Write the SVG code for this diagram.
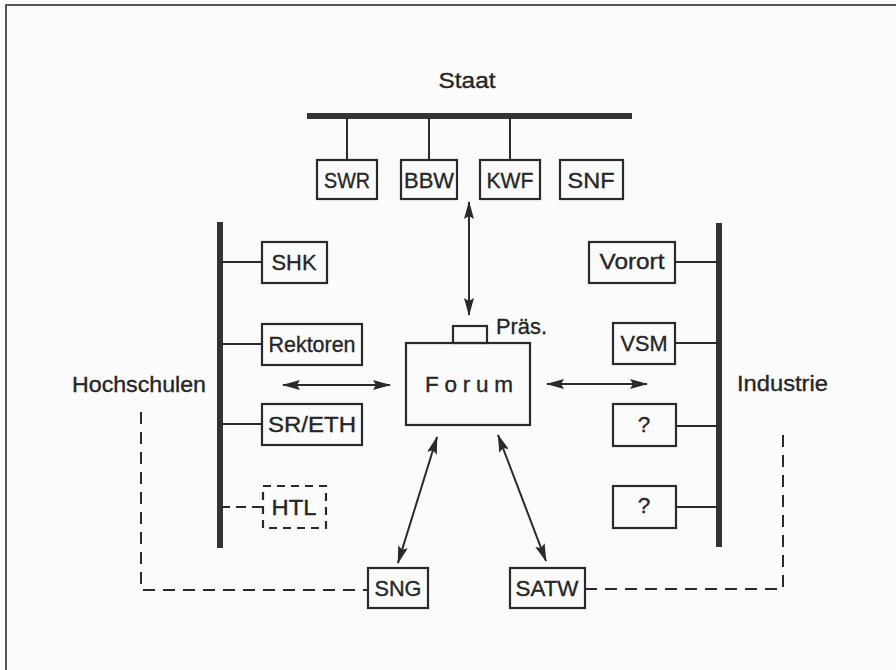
<svg xmlns="http://www.w3.org/2000/svg" width="896" height="670" viewBox="0 0 896 670">
<defs>
<style>
.t{font-family:"Liberation Sans",Arial,sans-serif;font-size:22.5px;fill:#262626;stroke:#262626;stroke-width:0.35}
.m{text-anchor:middle}
.box{fill:none;stroke:#2a2a2a;stroke-width:2.2}
.dbox{fill:none;stroke:#2a2a2a;stroke-width:2.2;stroke-dasharray:8,6}
.ln{fill:none;stroke:#2a2a2a;stroke-width:2}
.dl{fill:none;stroke:#2a2a2a;stroke-width:2;stroke-dasharray:12,8}
.bar{stroke:#333;stroke-width:6}
.ar{fill:none;stroke:#2a2a2a;stroke-width:2;marker-start:url(#ah);marker-end:url(#ah)}
</style>
<marker id="ah" viewBox="0 0 18 10" refX="17" refY="5" markerWidth="18" markerHeight="10" markerUnits="userSpaceOnUse" orient="auto-start-reverse">
<path d="M0,0 L18,5 L0,10 L3,5 Z" fill="#2a2a2a"/>
</marker>
</defs>
<rect width="896" height="670" fill="#fbfbfb"/>
<path d="M6,670 V5 H896" fill="none" stroke="#555" stroke-width="2"/>

<g id="staat">
<text class="t m" x="467" y="88" textLength="57" lengthAdjust="spacingAndGlyphs">Staat</text>
<line class="bar" x1="307" y1="116" x2="632" y2="116"/>
</g>
<g id="hochschulen">
<text class="t" x="72" y="392" textLength="134" lengthAdjust="spacingAndGlyphs">Hochschulen</text>
<line class="bar" x1="220" y1="222" x2="220" y2="548"/>
</g>
<g id="industrie">
<text class="t" x="737" y="391" textLength="91" lengthAdjust="spacingAndGlyphs">Industrie</text>
<line class="bar" x1="719" y1="223" x2="719" y2="547"/>
</g>

<g id="SWR"><rect class="box" x="317" y="160" width="60" height="39"/><text class="t m" x="347" y="188" textLength="46" lengthAdjust="spacingAndGlyphs">SWR</text></g>
<g id="BBW"><rect class="box" x="401" y="160" width="56" height="39"/><text class="t m" x="429" y="188" textLength="50" lengthAdjust="spacingAndGlyphs">BBW</text></g>
<g id="KWF"><rect class="box" x="480" y="160" width="60" height="39"/><text class="t m" x="510" y="188" textLength="47" lengthAdjust="spacingAndGlyphs">KWF</text></g>
<g id="SNF"><rect class="box" x="560" y="160" width="63" height="39"/><text class="t m" x="591" y="188" textLength="47" lengthAdjust="spacingAndGlyphs">SNF</text></g>

<g id="SHK"><rect class="box" x="262" y="242" width="65" height="41"/><text class="t m" x="294" y="270" textLength="45" lengthAdjust="spacingAndGlyphs">SHK</text></g>
<g id="Rektoren"><rect class="box" x="262" y="324" width="100" height="41"/><text class="t m" x="312" y="352" textLength="87" lengthAdjust="spacingAndGlyphs">Rektoren</text></g>
<g id="SRETH"><rect class="box" x="262" y="404" width="100" height="41"/><text class="t m" x="312" y="432" textLength="88" lengthAdjust="spacingAndGlyphs">SR/ETH</text></g>
<g id="HTL"><rect class="dbox" x="263" y="486" width="63" height="42"/><text class="t m" x="294" y="515" textLength="45" lengthAdjust="spacingAndGlyphs">HTL</text></g>

<g id="Vorort"><rect class="box" x="589" y="242" width="86" height="41"/><text class="t m" x="632" y="269" textLength="65" lengthAdjust="spacingAndGlyphs">Vorort</text></g>
<g id="VSM"><rect class="box" x="613" y="323" width="62" height="41"/><text class="t m" x="644" y="351" textLength="47" lengthAdjust="spacingAndGlyphs">VSM</text></g>
<g id="Q1"><rect class="box" x="613" y="404" width="63" height="42"/><text class="t m" x="644" y="432">?</text></g>
<g id="Q2"><rect class="box" x="613" y="486" width="63" height="42"/><text class="t m" x="644" y="513">?</text></g>

<g id="Forum">
<rect class="box" x="453" y="326" width="34" height="17"/>
<rect class="box" x="406" y="343" width="124" height="82"/>
<text class="t m" x="469" y="392" textLength="88" lengthAdjust="spacing">Forum</text>
<text class="t" x="496" y="334" textLength="51" lengthAdjust="spacingAndGlyphs">Präs.</text>
</g>

<g id="SNG"><rect class="box" x="368" y="568" width="60" height="40"/><text class="t m" x="398" y="596" textLength="47" lengthAdjust="spacingAndGlyphs">SNG</text></g>
<g id="SATW"><rect class="box" x="510" y="568" width="75" height="40"/><text class="t m" x="547" y="596" textLength="63" lengthAdjust="spacingAndGlyphs">SATW</text></g>

<g id="connectors">
<line class="ln" x1="347" y1="116" x2="347" y2="160"/>
<line class="ln" x1="429" y1="116" x2="429" y2="160"/>
<line class="ln" x1="510" y1="116" x2="510" y2="160"/>
<line class="ln" x1="220" y1="262" x2="262" y2="262"/>
<line class="ln" x1="220" y1="344" x2="262" y2="344"/>
<line class="ln" x1="220" y1="424" x2="262" y2="424"/>
<line class="dl" x1="220" y1="507" x2="263" y2="507" style="stroke-dasharray:10,6"/>
<line class="ln" x1="675" y1="262" x2="719" y2="262"/>
<line class="ln" x1="675" y1="343" x2="719" y2="343"/>
<line class="ln" x1="676" y1="426" x2="719" y2="426"/>
<line class="ln" x1="676" y1="507" x2="719" y2="507"/>
<line class="ar" x1="469" y1="202" x2="469" y2="315"/>
<line class="ar" x1="283" y1="385" x2="390" y2="385"/>
<line class="ar" x1="547" y1="384" x2="647" y2="384"/>
<line class="ar" x1="437" y1="437" x2="398" y2="563"/>
<line class="ar" x1="498" y1="435" x2="546" y2="561"/>
<path class="dl" d="M141,412 V590 H368"/>
<path class="dl" d="M585,589 H783 V428"/>
</g>
</svg>
